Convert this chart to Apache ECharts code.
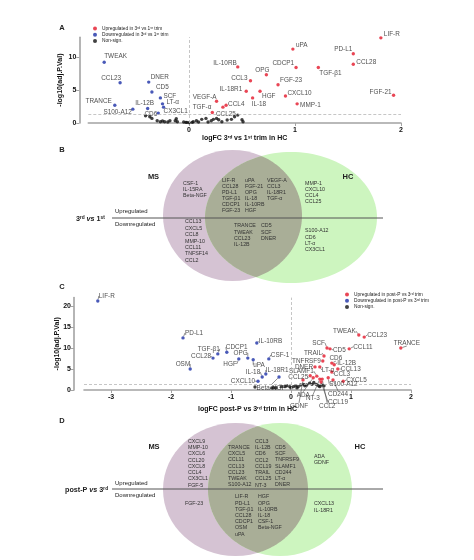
<!DOCTYPE html>
<html><head><meta charset="utf-8">
<script src="https://cdn.jsdelivr.net/npm/echarts@6/dist/echarts.min.js"></script>
<style>html,body{margin:0;padding:0;background:#fff}#c{width:474px;height:560px}</style>
</head><body><div id="c"></div>
<script>
// ---------- Panel A data (3rd vs 1st trimester, HC) ----------
const aUpNames = ['LIF-R','PD-L1','CCL28','uPA','CDCP1','TGF-β1','FGF-21','IL-10RB','OPG','CCL3','FGF-23','IL-18R1','HGF','CXCL10','IL-18','MMP-1','VEGF-A','CCL4','CCL25','TGF-α'];
const aUpX = [1.81,1.55,1.55,0.98,1.01,1.22,1.93,0.46,0.73,0.58,0.84,0.54,0.67,0.91,0.60,1.02,0.26,0.35,0.32,0.22];
const aUpY = [12.9,10.5,8.9,11.2,8.4,8.4,4.2,8.5,7.3,6.4,5.8,4.8,4.8,4.1,3.8,2.9,3.3,2.7,2.4,1.6];
const aDownNames = ['TWEAK','CCL23','DNER','CD5','SCF','LT-α','CX3CL1','TRANCE','S100-A12','IL-12B','CD6'];
const aDownX = [-0.80,-0.65,-0.38,-0.35,-0.27,-0.25,-0.24,-0.70,-0.53,-0.39,-0.29];
const aDownY = [9.2,6.1,6.2,4.7,3.8,2.9,2.4,2.7,2.1,2.2,1.5];
const aNsX = [-0.41,-0.37,-0.35,-0.30,-0.27,-0.25,-0.23,-0.20,-0.18,-0.13,-0.12,-0.11,-0.05,-0.03,-0.02,0.00,0.03,0.04,0.07,0.09,0.12,0.16,0.18,0.21,0.23,0.26,0.28,0.31,0.36,0.40,0.43,0.46,0.50,0.51];
const aNsY = [1.1,0.95,0.7,0.35,0.2,0.3,0.2,0.15,0.35,0.35,0.65,0.2,0.15,0.1,0.1,0.05,0.1,0.2,0.35,0.15,0.55,0.7,0.15,0.35,0.55,0.7,0.5,0.2,0.45,0.55,0.95,1.2,0.5,0.2];

// ---------- Panel C data (post-P vs 3rd trimester, HC) ----------
const cUpNames = ['TWEAK','CCL23','TRANCE','CCL11','SCF','CD5','TRAIL','TNFRSF9','CD6','IL-12B','CCL13','DNER','LT-α','CCL3','CXCL5','S100-A12','SLAMF1','CCL25','ADA','GDNF','NT-3','CD244','CCL19','CCL2'];
const cUpX = [1.13,1.22,1.83,0.97,0.60,0.65,0.55,0.53,0.68,0.72,0.78,0.40,0.48,0.68,0.87,0.62,0.43,0.32,0.37,0.20,0.48,0.70,0.50,0.52];
const cUpY = [13.1,12.6,10.0,9.8,10.0,9.8,8.1,6.9,6.4,6.0,5.0,5.5,5.5,4.3,2.1,2.9,3.3,3.4,2.9,2.4,2.6,2.4,1.9,2.6];
const cDownNames = ['LIF-R','PD-L1','TGF-β1','CCL28','OSM','CDCP1','OPG','HGF','uPA','IL-10RB','CSF-1','IL-18','IL-18R1','CXCL10','Beta-NGF'];
const cDownX = [-3.22,-1.80,-1.22,-1.30,-1.68,-1.07,-0.72,-0.87,-0.63,-0.57,-0.37,-0.48,-0.42,-0.55,-0.20];
const cDownY = [21.2,12.4,8.6,7.6,5.0,9.0,7.6,7.4,7.2,11.2,7.4,3.1,3.8,2.1,3.1];
const cNsX = [-0.60,-0.32,-0.29,-0.25,-0.16,-0.10,-0.07,-0.02,0.04,0.08,0.12,0.16,0.21,0.23,0.26,0.31,0.35,0.38,0.42,0.46,0.48,0.51,0.55,0.00,0.10];
const cNsY = [0.7,0.5,0.55,0.55,0.8,0.8,1.0,0.8,0.8,1.0,0.8,1.2,1.35,1.0,1.2,1.6,1.35,1.8,1.35,1.0,0.8,1.2,1.0,0.5,0.5];
const sigLine = [1.3];

// ---------- Panel B Venn lists ----------
const bMsUp = ['CSF-1','IL-15RA','Beta-NGF'];
const bBothUp1 = ['LIF-R','CCL28','PD-L1','TGF-β1','CDCP1','FGF-23'];
const bBothUp2 = ['uPA','FGF-21','OPG','IL-18','IL-10RB','HGF'];
const bBothUp3 = ['VEGF-A','CCL3','IL-18R1','TGF-α'];
const bHcUp = ['MMP-1','CXCL10','CCL4','CCL25'];
const bMsDown = ['CCL13','CXCL5','CCL8','MMP-10','CCL11','TNFSF14','CCL2'];
const bBothDown1 = ['TRANCE','TWEAK','CCL23','IL-12B'];
const bBothDown2 = ['CD5','SCF','DNER'];
const bHcDown = ['S100-A12','CD6','LT-α','CX3CL1'];

// ---------- Panel D Venn lists ----------
const dMsUp = ['CXCL9','MMP-10','CXCL6','CCL20','CXCL8','CCL4','CX3CL1','FGF-5'];
const dBothUp1 = ['TRANCE','CXCL5','CCL11','CCL13','CCL23','TWEAK','S100-A12'];
const dBothUp2 = ['CCL3','IL-12B','CD6','CCL2','CCL19','TRAIL','CCL25','NT-3'];
const dBothUp3 = ['CD5','SCF','TNFRSF9','SLAMF1','CD244','LT-α','DNER'];
const dHcUp = ['ADA','GDNF'];
const dMsDown = ['FGF-23'];
const dBothDown1 = ['LIF-R','PD-L1','TGF-β1','CCL28','CDCP1','OSM','uPA'];
const dBothDown2 = ['HGF','OPG','IL-10RB','IL-18','CSF-1','Beta-NGF'];
const dHcDown = ['CXCL13','IL-18R1'];

// ---------- styling / label placement (not data) ----------
const F = '"Liberation Sans", Arial, Helvetica, sans-serif';
const S = 3.4;
const RED = '#e3182a', BLUE = '#1b2fa6', BLACK = '#111';
const aLab = {
 'LIF-R':[3,-4,'left'],'PD-L1':[-1,-4,'right'],'CCL28':[3,-2,'left'],'uPA':[3,-4,'left'],'CDCP1':[-2,-4,'right'],
 'TGF-β1':[1,6,'left'],'FGF-21':[-2,-3,'right'],'IL-10RB':[-1,-4,'right'],'OPG':[-4,-5,'center'],'CCL3':[-3,-3,'right'],
 'FGF-23':[2,-4,'left'],'IL-18R1':[-4,-2,'right'],'HGF':[2,5,'left'],'CXCL10':[2,-3,'left'],'IL-18':[-1,6,'left'],
 'MMP-1':[3,1,'left'],'VEGF-A':[0,-4,'right'],'CCL4':[2,-1,'left'],'CCL25':[3,7,'center'],'TGF-α':[-1,-5,'right'],
 'TWEAK':[0,-6,'left'],'CCL23':[1,-5,'right'],'DNER':[2,-5,'left'],'CD5':[4,-5,'left'],'SCF':[3,-2,'left'],
 'LT-α':[4,-2,'left'],'CX3CL1':[0,4,'left'],'TRANCE':[-3,-4,'right'],'S100-A12':[-1,3,'right'],'IL-12B':[-3,-5,'center'],'CD6':[-1,1,'right']
};
const cLab = {
 'TWEAK':[-3,-4,'right'],'CCL23':[3,-2,'left'],'TRANCE':[6,-5,'center'],'CCL11':[4,-2,'left'],'SCF':[-2,-5,'right'],
 'CD5':[3,1,'left'],'TRAIL':[-2,-3,'right'],'TNFRSF9':[-2,0,'right'],'CD6':[4,-5,'center'],'IL-12B':[3,-2,'left'],
 'CCL13':[3,0,'left'],'DNER':[-2,0,'right'],'LT-α':[2,3,'left'],'CCL3':[2,2,'left'],'CXCL5':[3,-1,'left'],
 'S100-A12':[1,6,'left'],'SLAMF1':[-3,-5,'right'],'CCL25':[-2,2,'right'],
 'LIF-R':[1,-5,'left'],'PD-L1':[2,-5,'left'],'TGF-β1':[2,-5,'right'],'CCL28':[-2,-2,'right'],'OSM':[0,-5,'right'],
 'CDCP1':[-1,-5,'left'],'OPG':[0,-5,'right'],'HGF':[-2,5,'right'],'uPA':[0,5,'left'],'IL-10RB':[2,-2,'left'],
 'CSF-1':[2,-4,'left'],'IL-18':[-2,-5,'right'],'IL-18R1':[0,-4,'left'],'CXCL10':[-3,0,'right']
};
const cLeader = {'ADA':[-10,17],'GDNF':[-4,26],'NT-3':[-7,19],'CD244':[5,14],'CCL19':[17,20],'CCL2':[5,27],'Beta-NGF':[-8,11]};

function mk(names, xs, ys, lab, leader) {
  return names.map((n, i) => {
    const o = {name: n, value: [xs[i], ys[i]]};
    if (leader && leader[n]) {
      o.label = {position: 'inside', align: 'center', verticalAlign: 'middle'};
    } else {
      const l = lab[n] || [2, 0, 'left'];
      o.label = {position: [S/2 + l[0], S/2 + l[1]], align: l[2], verticalAlign: 'middle'};
    }
    return o;
  });
}
function mkNs(xs, ys) { return xs.map((x, i) => [x, ys[i]]); }
function leaderLayout(names) {
  return function (p) { const L = cLeader[names[p.dataIndex]]; return L ? {dx: L[0], dy: L[1]} : {}; };
}
const labelStyle = {show: true, formatter: '{b}', fontSize: 6.4, color: '#222', fontFamily: F};
const mLine = {silent: true, symbol: 'none', label: {show: false},
  lineStyle: {color: '#b8b8b8', type: [3, 2], width: 0.8},
  data: [{yAxis: sigLine[0]}, {xAxis: 0}]};

function xAx(gi, min, max, name, gap) {
  return {gridIndex: gi, type: 'value', min: min, max: max, splitNumber: gi === 0 ? 3 : 5,
    axisLine: {show: true, onZero: false, lineStyle: {color: '#a3a3a3', width: 1.6}},
    axisTick: {show: true, length: 3, lineStyle: {color: '#a3a3a3', width: 1}},
    axisLabel: {fontSize: 7, color: '#111', fontFamily: F, margin: 4, showMinLabel: false, fontWeight: 'bold'},
    splitLine: {show: false}, name: name, nameLocation: 'middle', nameGap: gap, nameMoveOverlap: false,
    nameTextStyle: {fontSize: 7, fontWeight: 'bold', color: '#111', fontFamily: F}};
}
function yAx(gi, max, off, gap) {
  return {gridIndex: gi, type: 'value', min: 0, max: max, interval: 5, offset: off,
    axisLine: {show: true, onZero: false, lineStyle: {color: '#a3a3a3', width: 1.6}},
    axisTick: {show: true, length: 3, lineStyle: {color: '#a3a3a3', width: 1}},
    axisLabel: {fontSize: 7, color: '#111', fontFamily: F, margin: 3, showMaxLabel: false, fontWeight: 'bold'},
    splitLine: {show: false}, name: '-log10(adj.P.Val)', nameLocation: 'middle', nameGap: gap, nameMoveOverlap: false,
    nameTextStyle: {fontSize: 7, fontWeight: 'bold', color: '#111', fontFamily: F}};
}

// ---------- graphic helpers for Venn panels ----------
function txt(s, x, y, size, align, extra) {
  return {type: 'text', x: x, y: y, silent: true,
    style: Object.assign({text: s, fill: '#222', fontSize: size, fontFamily: F,
      align: align, textAlign: align, verticalAlign: 'middle', textVerticalAlign: 'middle'}, extra || {})};
}
function list(arr, x, y0, lh) { return arr.map((s, i) => txt(s, x, y0 + i * lh, 5.3, 'left', {fill: '#333'})); }
function inside(e, p) { const a = (p[0]-e.cx)/e.rx, b = (p[1]-e.cy)/e.ry; return a*a + b*b <= 1; }
function lensPts(a, b) {
  const pts = [], N = 360;
  for (let k = 0; k < N; k++) {
    const t = 2 * Math.PI * k / N;
    const p = [a.cx + a.rx*Math.cos(t), a.cy + a.ry*Math.sin(t)];
    if (inside(b, p)) pts.push(p);
    const q = [b.cx + b.rx*Math.cos(t), b.cy + b.ry*Math.sin(t)];
    if (inside(a, q)) pts.push(q);
  }
  let mx = 0, my = 0; pts.forEach(p => { mx += p[0]; my += p[1]; }); mx /= pts.length; my /= pts.length;
  pts.sort((u, v) => Math.atan2(u[1]-my, u[0]-mx) - Math.atan2(v[1]-my, v[0]-mx));
  return pts;
}
const PURPLE = '#d5c3d3', GREEN = '#cdf5bf', LENS = '#a9ae97';
function venn(L, R) {
  return [
    {type: 'ellipse', silent: true, shape: L, style: {fill: PURPLE}},
    {type: 'ellipse', silent: true, shape: R, style: {fill: GREEN}},
    {type: 'polygon', silent: true, shape: {points: lensPts(L, R)}, style: {fill: LENS}}
  ];
}
function hline(y) { return {type: 'line', silent: true, shape: {x1: 112, y1: y, x2: 383, y2: y}, style: {stroke: '#555', lineWidth: 1}}; }
function richTitle(parts, x, y) {
  return {type: 'text', x: x, y: y, silent: true, style: {text: parts, verticalAlign: 'middle', textVerticalAlign: 'middle',
    rich: {b: {fontSize: 7.2, fontWeight: 'bold', fontFamily: F, fill: '#222'},
           i: {fontSize: 7.2, fontWeight: 'bold', fontStyle: 'italic', fontFamily: F, fill: '#222'}}}};
}
const bold = (s, x, y, size) => txt(s, x, y, size, 'center', {fontWeight: 'bold', fill: '#222'});

const vB = {L: {cx: 232.5, cy: 215.5, rx: 69.5, ry: 65.5}, R: {cx: 291, cy: 217.5, rx: 86, ry: 65.5}};
const vD = {L: {cx: 235.5, cy: 489.5, rx: 72.5, ry: 66.5}, R: {cx: 280, cy: 489.5, rx: 72, ry: 66.5}};

const graphics = [].concat(
  venn(vB.L, vB.R), [hline(218)],
  venn(vD.L, vD.R), [hline(489)],
  [bold('A', 62, 28, 7.5), bold('B', 62, 150, 7.5), bold('C', 62, 287, 7.5), bold('D', 62, 421, 7.5),
   bold('MS', 153.5, 177, 7.5), bold('HC', 348, 177, 7.5), bold('MS', 154, 447, 7.5), bold('HC', 360, 447, 7.5),
   txt('Upregulated', 115, 211, 6, 'left'), txt('Downregulated', 115, 224, 6, 'left'),
   txt('Upregulated', 115, 483, 6, 'left'), txt('Downregulated', 115, 495, 6, 'left'),
   richTitle('{b|3ʳᵈ }{i|vs}{b| 1ˢᵗ}', 76, 219), richTitle('{b|post-P }{i|vs}{b| 3ʳᵈ}', 65, 490)],
  list(bMsUp, 183, 184, 6), list(bBothUp1, 222, 181, 6), list(bBothUp2, 245, 181, 6), list(bBothUp3, 267, 181, 6),
  list(bHcUp, 305, 183.3, 6), list(bMsDown, 185, 222, 6.4), list(bBothDown1, 234, 226, 6.1), list(bBothDown2, 261, 226, 6.1),
  list(bHcDown, 305, 231, 6.2),
  list(dMsUp, 188, 441.5, 6.25), list(dBothUp1, 228, 447.5, 6.25), list(dBothUp2, 255, 441.3, 6.25), list(dBothUp3, 275, 447.5, 6.25),
  list(dHcUp, 314, 456.8, 6.1), list(dMsDown, 185, 504, 6.2), list(dBothDown1, 235, 497, 6.2), list(dBothDown2, 258, 497, 6.2),
  list(dHcDown, 314, 504, 6.2)
);

const legendCommon = {orient: 'vertical', itemWidth: 4, itemHeight: 4, itemGap: 1.2, icon: 'circle', padding: 0,
  selectedMode: false, textStyle: {fontSize: 4.8, color: '#222', fontFamily: F}};

const option = {
  animation: false,
  backgroundColor: '#fff',
  textStyle: {fontFamily: F},
  grid: [{left: 88.3, top: 37.2, width: 312.7, height: 85.8}, {left: 84, top: 297.6, width: 327, height: 92.4}],
  xAxis: [xAx(0, -0.95, 2, 'logFC 3ʳᵈ vs 1ˢᵗ trim in HC', 12), xAx(1, -3.45, 2, 'logFC post-P vs 3ʳᵈ trim in HC', 16)],
  yAxis: [yAx(0, 13, 9, 16), yAx(1, 22, 10, 13)],
  legend: [
    Object.assign({left: 93, top: 26, data: ['Upregulated in 3ʳᵈ vs 1ˢᵗ trim', 'Downregulated in 3ʳᵈ vs 1ˢᵗ trim', 'Non-sign.']}, legendCommon),
    Object.assign({left: 345, top: 292, data: ['Upregulated in post-P vs 3ʳᵈ trim', 'Downregulated in post-P vs 3ʳᵈ trim', 'Non-sign. ']}, legendCommon)
  ],
  graphic: {elements: graphics},
  series: [
    {type: 'scatter', name: 'Non-sign.', xAxisIndex: 0, yAxisIndex: 0, symbolSize: S, itemStyle: {color: BLACK},
     data: mkNs(aNsX, aNsY), markLine: mLine, z: 2},
    {type: 'scatter', name: 'Upregulated in 3ʳᵈ vs 1ˢᵗ trim', xAxisIndex: 0, yAxisIndex: 0, symbolSize: S,
     itemStyle: {color: RED}, label: labelStyle, data: mk(aUpNames, aUpX, aUpY, aLab), z: 3},
    {type: 'scatter', name: 'Downregulated in 3ʳᵈ vs 1ˢᵗ trim', xAxisIndex: 0, yAxisIndex: 0, symbolSize: S,
     itemStyle: {color: BLUE}, label: labelStyle, data: mk(aDownNames, aDownX, aDownY, aLab), z: 3},
    {type: 'scatter', name: 'Non-sign. ', xAxisIndex: 1, yAxisIndex: 1, symbolSize: S, itemStyle: {color: BLACK},
     data: mkNs(cNsX, cNsY), markLine: mLine, z: 2},
    {type: 'scatter', name: 'Upregulated in post-P vs 3ʳᵈ trim', xAxisIndex: 1, yAxisIndex: 1, symbolSize: S,
     itemStyle: {color: RED}, label: labelStyle, data: mk(cUpNames, cUpX, cUpY, cLab, cLeader), z: 3,
     labelLayout: leaderLayout(cUpNames), labelLine: {show: true, lineStyle: {color: '#444', width: 0.6}}},
    {type: 'scatter', name: 'Downregulated in post-P vs 3ʳᵈ trim', xAxisIndex: 1, yAxisIndex: 1, symbolSize: S,
     itemStyle: {color: BLUE}, label: labelStyle, data: mk(cDownNames, cDownX, cDownY, cLab, cLeader), z: 3,
     labelLayout: leaderLayout(cDownNames), labelLine: {show: true, lineStyle: {color: '#444', width: 0.6}}}
  ]
};
const chart = echarts.init(document.getElementById('c'), null, {renderer: 'canvas'});
chart.setOption(option);
</script></body></html>
